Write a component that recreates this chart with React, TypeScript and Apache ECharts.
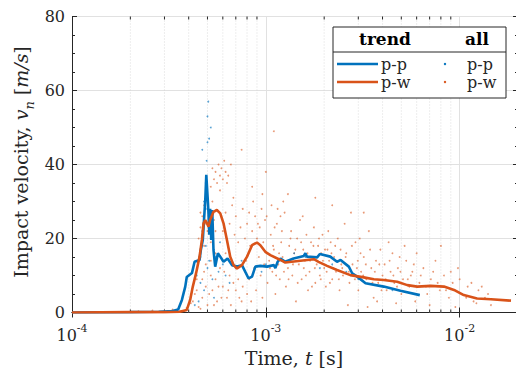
import React, { useEffect, useRef } from "react";
import * as echarts from "echarts";

// ---- data (time in milliseconds, velocity in m/s) ----
const ppTrendTimeMs = [0.1, 0.2, 0.28, 0.33, 0.353, 0.369, 0.384, 0.391, 0.416, 0.429, 0.455, 0.462, 0.473, 0.481, 0.487, 0.493, 0.503, 0.506, 0.511, 0.516, 0.523, 0.529, 0.537, 0.548, 0.566, 0.582, 0.605, 0.635, 0.669, 0.71, 0.753, 0.815, 0.849, 0.883, 0.937, 1.015, 1.1, 1.12, 1.15, 1.19, 1.26, 1.39, 1.57, 1.6, 1.63, 1.84, 1.9, 2.15, 2.33, 2.43, 2.68, 2.79, 2.96, 3.27, 4.06, 4.95, 6.23];
const ppTrendVel = [0, 0.1, 0.2, 0.4, 0.8, 3.4, 7, 9.6, 10.7, 13.7, 14.2, 16.9, 19.6, 25.9, 30.4, 37.2, 29.5, 26.9, 21, 28, 19.6, 27.7, 16.9, 12.4, 16, 15.1, 13.7, 14.6, 12.8, 12.4, 12.8, 9.2, 9.7, 12.4, 12.6, 12.4, 12.8, 12.0, 13.7, 14.6, 13.7, 14.6, 15.3, 16, 15.1, 14.9, 15.8, 15.1, 13.7, 14.2, 12.4, 10.6, 9.7, 7.9, 7, 5.9, 4.7];

const pwTrendTimeMs = [0.1, 0.2, 0.3, 0.36, 0.391, 0.407, 0.42, 0.437, 0.455, 0.468, 0.477, 0.487, 0.497, 0.506, 0.516, 0.537, 0.559, 0.582, 0.605, 0.63, 0.655, 0.682, 0.71, 0.753, 0.8, 0.849, 0.9, 0.937, 0.994, 1.055, 1.19, 1.26, 1.51, 1.77, 1.87, 2.07, 2.33, 2.73, 3.2, 3.61, 4.06, 4.76, 5.37, 6.04, 7.08, 8.3, 9.35, 10.5, 12.3, 14.5, 18.4];
const pwTrendVel = [0, 0.1, 0.1, 0.2, 0.7, 3.4, 7, 10.7, 15.1, 19.6, 24.1, 25, 24.1, 23.2, 25, 27.2, 27.7, 26.8, 24.1, 19.6, 15.1, 12.8, 11.9, 12.8, 15.1, 18.2, 18.9, 18.2, 16.4, 15.5, 14.2, 13.5, 14, 14.4, 13.7, 12.6, 11.5, 10.1, 9.5, 9, 8.8, 8.3, 7.4, 7, 7.2, 7, 6.1, 4.7, 3.8, 3.6, 3.2];

const ppAllMs: [number, number][] = [
  [0.44, 10], [0.46, 15], [0.47, 22], [0.48, 30], [0.49, 35], [0.495, 41], [0.5, 46], [0.5, 53], [0.505, 57], [0.51, 47],
  [0.49, 28], [0.52, 20], [0.5, 12], [0.48, 6], [0.45, 3], [0.53, 9], [0.55, 15], [0.57, 11], [0.6, 13], [0.65, 8],
  [0.7, 12], [0.8, 10], [0.95, 11], [1.2, 14], [1.6, 15], [2.2, 13], [3.0, 9], [4.5, 6], [0.47, 44], [0.52, 50],
  [0.43, 2], [0.46, 8], [0.49, 18], [0.51, 14], [0.54, 4], [0.58, 19], [0.62, 10], [0.75, 14], [1.0, 13], [1.4, 16],
  [1.9, 12], [2.6, 11],
];

const pwAllMs: [number, number][] = [
  [0.22, 0.3], [0.26, 0.5], [0.3, 0.4], [0.33, 0.8],
  [0.45, 20], [0.46, 23], [0.47, 26], [0.47, 21], [0.48, 29], [0.49, 24], [0.5, 31], [0.5, 22], [0.51, 27], [0.52, 19],
  [0.53, 30], [0.54, 25], [0.55, 22], [0.48, 18], [0.46, 27],
  [0.52, 34], [0.54, 36], [0.55, 38], [0.56, 35], [0.57, 40], [0.58, 37], [0.59, 39], [0.6, 36], [0.61, 41], [0.62, 38],
  [0.63, 35], [0.64, 37], [0.66, 40], [0.53, 39], [0.58, 33],
  [0.36, 0.4], [0.39, 1.2], [0.41, 2.5], [0.43, 5], [0.44, 9], [0.45, 1.5], [0.47, 4], [0.48, 11], [0.49, 7], [0.5, 2],
  [0.52, 14], [0.53, 6], [0.55, 9], [0.56, 3], [0.58, 12], [0.6, 7], [0.62, 16], [0.63, 4], [0.65, 10], [0.67, 13],
  [0.7, 6], [0.72, 9], [0.75, 3], [0.78, 11], [0.8, 5],
  [0.42, 3], [0.44, 6], [0.46, 1], [0.47, 9], [0.49, 13], [0.51, 5], [0.52, 10], [0.54, 2], [0.55, 16], [0.57, 7],
  [0.59, 4], [0.61, 11], [0.64, 6], [0.66, 2], [0.68, 8], [0.71, 12], [0.73, 4], [0.76, 7], [0.79, 14], [0.82, 9],
  [0.84, 3], [0.87, 12], [0.89, 6], [0.92, 15], [0.94, 10], [0.96, 4], [0.98, 13],
  [0.6, 22], [0.62, 27], [0.65, 24], [0.67, 29], [0.69, 21], [0.7, 26], [0.72, 19], [0.74, 23], [0.76, 28], [0.78, 20],
  [0.8, 24], [0.83, 18], [0.85, 22], [0.88, 26], [0.9, 20], [0.93, 23], [0.95, 28], [0.97, 19], [0.99, 25], [0.68, 31],
  [0.82, 27], [0.86, 30], [0.91, 24], [0.96, 32], [1.01, 26], [1.07, 29], [1.11, 23], [1.19, 26], [1.23, 30],
  [1.02, 8], [1.04, 14], [1.06, 21], [1.08, 11], [1.1, 17], [1.12, 5], [1.14, 24], [1.16, 13], [1.18, 9], [1.2, 19],
  [1.22, 15], [1.25, 27], [1.27, 7], [1.3, 12], [1.32, 18], [1.35, 22], [1.37, 10], [1.4, 16], [1.43, 3], [1.45, 20],
  [1.48, 13], [1.5, 25], [1.53, 9], [1.56, 17], [1.59, 14], [1.62, 21], [1.65, 6], [1.68, 11], [1.71, 19], [1.74, 15],
  [1.77, 23], [1.8, 8], [1.83, 13], [1.86, 18], [1.9, 10], [1.93, 16], [1.96, 21], [2.0, 12], [2.04, 7], [2.08, 17],
  [2.12, 14], [2.16, 19], [2.2, 9], [2.25, 15], [2.3, 11], [2.35, 20], [2.4, 6], [2.45, 13], [1.15, 28], [1.55, 26],
  [1.05, 12], [1.09, 18], [1.13, 10], [1.17, 16], [1.21, 22], [1.24, 11], [1.28, 14], [1.31, 9], [1.34, 20], [1.38, 13],
  [1.42, 17], [1.46, 8], [1.49, 15], [1.52, 19], [1.57, 12], [1.61, 10], [1.64, 16], [1.69, 14], [1.73, 7], [1.76, 18],
  [1.79, 12], [1.84, 15], [1.88, 20], [1.92, 9], [1.97, 14], [2.02, 17], [2.06, 11], [2.1, 22], [2.14, 8], [2.18, 16],
  [2.23, 12], [2.28, 18], [2.33, 14], [2.38, 9], [2.43, 17], [2.48, 12],
  [2.5, 10], [2.6, 16], [2.7, 8], [2.8, 13], [2.9, 19], [3.0, 6], [3.1, 11], [3.2, 15], [3.3, 9], [3.4, 22],
  [3.5, 12], [3.6, 4], [3.7, 14], [3.8, 8], [3.9, 17], [4.0, 10], [4.1, 13], [4.2, 6], [4.4, 11], [4.5, 16],
  [4.6, 8], [4.8, 12], [5.0, 5], [5.1, 9], [5.3, 14], [5.5, 7], [5.7, 11], [5.9, 3], [2.55, 24], [3.05, 20],
  [2.65, 2], [3.35, 1.5], [4.3, 19], [4.9, 15], [2.75, 27], [5.2, 18], [3.75, 3], [4.7, 2.5], [5.6, 10], [2.95, 12],
  [2.58, 15], [2.68, 11], [2.78, 18], [2.88, 9], [2.98, 14], [3.08, 16], [3.18, 10], [3.28, 13], [3.45, 17], [3.55, 8],
  [3.65, 11], [3.85, 13], [3.95, 6], [4.15, 9], [4.35, 14], [4.55, 10], [4.75, 7], [4.95, 11], [5.4, 9], [5.8, 13],
  [6.2, 8], [6.5, 12], [6.8, 5], [7.1, 9], [7.5, 14], [7.9, 6], [8.3, 10], [8.8, 4], [9.2, 8], [9.8, 12],
  [10.3, 5], [11.0, 7], [11.8, 3], [12.5, 6], [13.5, 4], [14.5, 2], [6.0, 16], [7.0, 2], [8.0, 18], [9.5, 1.5],
  [6.3, 10], [6.7, 7], [7.3, 11], [7.7, 8], [8.5, 6], [9.0, 11], [10.0, 9], [10.8, 4], [11.5, 8], [12.2, 2.5],
  [13.0, 7], [14.0, 5],
  [0.85, 34], [1.0, 38], [1.3, 32], [1.8, 31], [2.2, 29], [3.2, 27], [0.75, 44], [1.1, 49],
];

// axis ticks
const xMin = 1e-4;
const xMax = 2e-2;
const xDecades = [1e-4, 1e-3, 1e-2];
const xMinorMultipliers = [2, 3, 4, 5, 6, 7, 8, 9];
const yMin = 0;
const yMax = 80;
const yInterval = 20;

const BLUE = "#0072BD";
const ORANGE = "#D95319";
const AXIS = "#262626";
const FONT = "DejaVu Serif";

const ms = (v: number) => v * 1e-3;

export default function App() {
  const ref = useRef<HTMLDivElement>(null);
  useEffect(() => {
    if (!ref.current) return;
    const chart = echarts.init(ref.current, undefined, { renderer: "svg" });

    const minorTickValues: number[] = [];
    xDecades.forEach((d) => xMinorMultipliers.forEach((m) => {
      const v = d * m;
      if (v < xMax) minorTickValues.push(v);
    }));

    const ppTrend = ppTrendTimeMs.map((t, i) => [ms(t), ppTrendVel[i]]);
    const pwTrend = pwTrendTimeMs.map((t, i) => [ms(t), pwTrendVel[i]]);
    const ppAll = ppAllMs.map(([t, v]) => [ms(t), v]);
    const pwAll = pwAllMs.map(([t, v]) => [ms(t), v]);

    const xLabelFormatter = (val: number) => {
      const e = Math.round(Math.log10(val));
      const hit = xDecades.some((d) => Math.abs(d - val) / d < 1e-6);
      return hit ? `{b|10}{e|${e}}` : "";
    };

    const xAxisCommon = {
      type: "log" as const,
      logBase: 10,
      min: xMin,
      max: xMax,
      axisLine: { show: true, lineStyle: { color: AXIS, width: 1 } },
      axisTick: { show: true, inside: true, length: 5, lineStyle: { color: AXIS } },
      minorTick: { show: false },
      minorSplitLine: { show: false },
    };
    const yAxisCommon = {
      type: "value" as const,
      min: yMin,
      max: yMax,
      interval: yInterval,
      axisLine: { show: true, lineStyle: { color: AXIS, width: 1 } },
      axisTick: { show: true, inside: true, length: 5, lineStyle: { color: AXIS } },
      minorTick: { show: true, splitNumber: 4, length: 3, lineStyle: { color: AXIS } },
      minorSplitLine: { show: false },
    };

    const option: any = {
      animation: false,
      backgroundColor: "#ffffff",
      textStyle: { fontFamily: FONT },
      grid: { left: 72, right: -2, top: 16.5, bottom: 61.5, outerBoundsMode: "none", containLabel: false },
      xAxis: [
        {
          ...xAxisCommon,
          position: "bottom",
          axisLabel: {
            show: true,
            margin: 10,
            color: AXIS,
            formatter: xLabelFormatter,
            showMinLabel: true,
            showMaxLabel: false,
            rich: {
              b: { fontFamily: FONT, fontSize: 16, color: AXIS, lineHeight: 26 },
              e: { fontFamily: FONT, fontSize: 11, color: AXIS, verticalAlign: "top", lineHeight: 14 },
            },
          },
          splitLine: { show: true, lineStyle: { color: "#e1e1e1", width: 1 } },
        },
        {
          ...xAxisCommon,
          position: "top",
          axisLabel: { show: false },
          splitLine: { show: false },
        },
      ],
      yAxis: [
        {
          ...yAxisCommon,
          position: "left",
          axisLabel: { show: true, margin: 7, color: AXIS, fontFamily: FONT, fontSize: 16 },
          splitLine: { show: true, lineStyle: { color: "#e1e1e1", width: 1 } },
        },
        {
          ...yAxisCommon,
          position: "right",
          axisLabel: { show: false },
          splitLine: { show: false },
        },
      ],
      series: [
        {
          type: "custom",
          name: "minor-grid",
          silent: true,
          z: 1,
          xAxisIndex: 0,
          yAxisIndex: 0,
          data: minorTickValues.map((v) => [v, yMin]),
          encode: { x: 0, y: 1 },
          renderItem: (_params: any, api: any) => {
            const t = api.value(0);
            const b = api.coord([t, yMin]);
            const top = api.coord([t, yMax]);
            return {
              type: "group",
              children: [
                {
                  type: "line",
                  shape: { x1: b[0], y1: b[1], x2: top[0], y2: top[1] },
                  style: { stroke: "#d4d4d4", lineWidth: 0.8, lineDash: [1, 2] },
                },
                {
                  type: "line",
                  shape: { x1: b[0], y1: b[1], x2: b[0], y2: b[1] - 3 },
                  style: { stroke: AXIS, lineWidth: 1 },
                },
                {
                  type: "line",
                  shape: { x1: top[0], y1: top[1], x2: top[0], y2: top[1] + 3 },
                  style: { stroke: AXIS, lineWidth: 1 },
                },
              ],
            };
          },
        },
        {
          type: "scatter",
          name: "p-w all",
          data: pwAll,
          symbol: "circle",
          symbolSize: 1.8,
          itemStyle: { color: ORANGE, opacity: 0.6 },
          z: 2,
          silent: true,
        },
        {
          type: "scatter",
          name: "p-p all",
          data: ppAll,
          symbol: "circle",
          symbolSize: 1.8,
          itemStyle: { color: BLUE, opacity: 0.65 },
          z: 2,
          silent: true,
        },
        {
          type: "line",
          name: "p-p trend",
          data: ppTrend,
          showSymbol: false,
          symbol: "none",
          lineStyle: { color: BLUE, width: 2.6 },
          itemStyle: { color: BLUE },
          z: 3,
        },
        {
          type: "line",
          name: "p-w trend",
          data: pwTrend,
          showSymbol: false,
          symbol: "none",
          lineStyle: { color: ORANGE, width: 2.6 },
          itemStyle: { color: ORANGE },
          z: 4,
        },
      ],
      graphic: [
        {
          type: "text",
          x: 21,
          y: 162,
          rotation: Math.PI / 2,
          z: 100,
          style: {
            text: "{r|Impact velocity, }{i|v}{s|n}{r| [}{i|m/s}{r|]}",
            align: "center",
            verticalAlign: "middle",
            rich: {
              r: { fontFamily: FONT, fontSize: 19, fill: AXIS, lineHeight: 30 },
              i: { fontFamily: FONT, fontSize: 19, fill: AXIS, fontStyle: "italic", lineHeight: 30 },
              s: { fontFamily: FONT, fontSize: 13, fill: AXIS, fontStyle: "italic", verticalAlign: "bottom", lineHeight: 17 },
            },
          },
        },
        {
          type: "text",
          x: 294,
          y: 358,
          z: 100,
          style: {
            text: "{r|Time, }{i|t}{r| [s]}",
            align: "center",
            verticalAlign: "middle",
            rich: {
              r: { fontFamily: FONT, fontSize: 19, fill: AXIS },
              i: { fontFamily: FONT, fontSize: 19, fill: AXIS, fontStyle: "italic" },
            },
          },
        },
        {
          type: "group",
          z: 100,
          children: [
            { type: "rect", shape: { x: 333, y: 27, width: 173, height: 71 }, style: { fill: "#ffffff", stroke: AXIS, lineWidth: 1 }, z: 100 },
            { type: "line", shape: { x1: 333, y1: 52, x2: 506, y2: 52 }, style: { stroke: AXIS, lineWidth: 1 }, z: 101 },
            { type: "text", x: 385, y: 39, z: 101, style: { text: "trend", font: `bold 17px ${FONT}`, fill: "#000", align: "center", verticalAlign: "middle" } },
            { type: "text", x: 477, y: 39, z: 101, style: { text: "all", font: `bold 17px ${FONT}`, fill: "#000", align: "center", verticalAlign: "middle" } },
            { type: "line", shape: { x1: 337, y1: 64, x2: 378, y2: 64 }, style: { stroke: BLUE, lineWidth: 2.6 }, z: 101 },
            { type: "line", shape: { x1: 337, y1: 82, x2: 378, y2: 82 }, style: { stroke: ORANGE, lineWidth: 2.6 }, z: 101 },
            { type: "text", x: 381, y: 64, z: 101, style: { text: "p-p", font: `16px ${FONT}`, fill: AXIS, align: "left", verticalAlign: "middle" } },
            { type: "text", x: 381, y: 82, z: 101, style: { text: "p-w", font: `16px ${FONT}`, fill: AXIS, align: "left", verticalAlign: "middle" } },
            { type: "circle", shape: { cx: 445, cy: 64, r: 1.2 }, style: { fill: BLUE }, z: 101 },
            { type: "circle", shape: { cx: 445, cy: 82, r: 1.2 }, style: { fill: ORANGE }, z: 101 },
            { type: "text", x: 467, y: 64, z: 101, style: { text: "p-p", font: `16px ${FONT}`, fill: AXIS, align: "left", verticalAlign: "middle" } },
            { type: "text", x: 467, y: 82, z: 101, style: { text: "p-w", font: `16px ${FONT}`, fill: AXIS, align: "left", verticalAlign: "middle" } },
          ],
        },
      ],
    };

    chart.setOption(option);
    return () => chart.dispose();
  }, []);

  return (
    <div
      ref={ref}
      style={{ position: "absolute", left: 0, top: 0, width: 516, height: 374, background: "#fff" }}
    />
  );
}
